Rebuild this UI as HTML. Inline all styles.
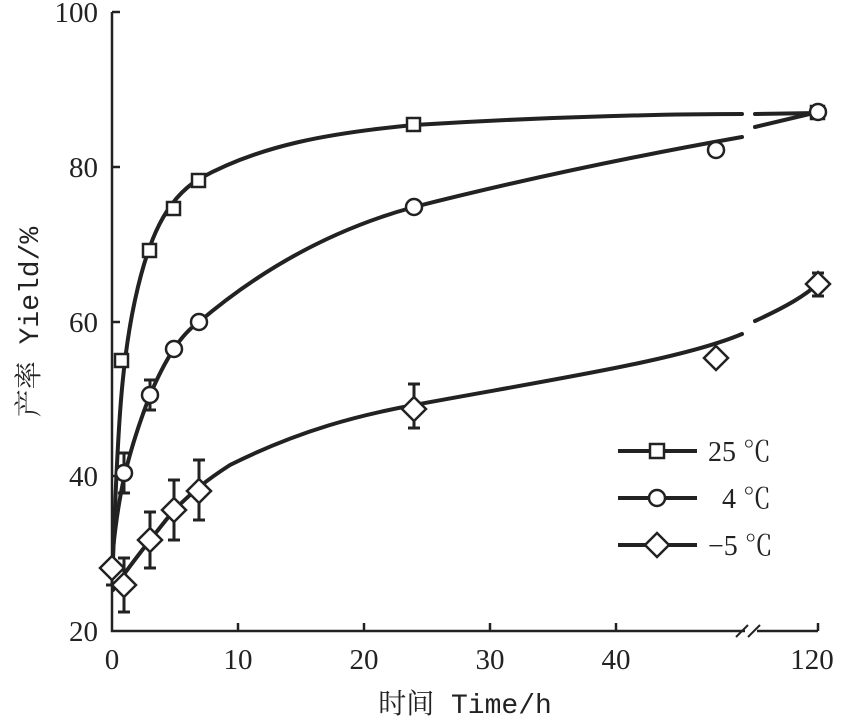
<!DOCTYPE html><html><head><style>body{margin:0;background:#fff}svg{display:block}text{font-family:"Liberation Serif","Noto Serif CJK SC",serif;fill:#222}.m{font-family:"Liberation Mono","Noto Serif CJK SC",monospace}</style></head><body>
<svg width="841" height="722" viewBox="0 0 841 722" xmlns="http://www.w3.org/2000/svg">
<g stroke="#222" stroke-width="2.5" fill="none">
<path d="M112 12V631H745M757 631H818"/>
<path d="M112 12H120M112 167H120M112 322H120M112 476H120M238 631V623M364 631V623M490 631V623M616 631V623M818 631V623"/>
<path d="M736 637L748 625M748 637L760 625" stroke-width="2"/>
</g>
<g stroke="#222" stroke-width="4" fill="none" stroke-linecap="round">
<path d="M113 560C118 420 122 360 135 300C148 240 165 200 199 179C260 145 330 133 414 125C560 116 680 114 742 114M755 114L818 113"/>
<path d="M113 550C118 500 125 460 150 395C165 360 180 335 199 322C260 270 330 230 414 207C560 170 680 148 742 137M755 127L818 112"/>
<path d="M113 590C130 565 150 540 174 510C190 495 199 485 230 465C300 430 360 415 414 405C560 378 680 360 742 334M755 321C790 305 805 295 818 284"/>
</g>
<g stroke="#222" stroke-width="3">
<path d="M124 493V453M118 493H130M118 453H130M150 410V380M144 410H156M144 380H156"/>
<path d="M124 612V558M118 612H130M118 558H130M150 568V512M144 568H156M144 512H156M174 540V480M168 540H180M168 480H180M199 520V460M193 520H205M193 460H205M414 428V384M408 428H420M408 384H420M818 296V273M812 296H824M812 273H824M112 585V563M106 585H118M106 563H118"/>
</g>
<g stroke="#222" stroke-width="2.5" fill="#fff">
<rect x="115" y="354" width="13" height="13"/><rect x="143" y="244" width="13" height="13"/><rect x="167" y="202" width="13" height="13"/><rect x="192" y="174" width="13" height="13"/><rect x="407" y="118" width="13" height="13"/><rect x="811" y="106" width="13" height="13"/>
<circle cx="124" cy="473" r="8"/><circle cx="150" cy="395" r="8"/><circle cx="174" cy="349" r="8"/><circle cx="199" cy="322" r="8"/><circle cx="414" cy="207" r="8"/><circle cx="716" cy="150" r="8"/><circle cx="818" cy="112" r="8"/>
<path d="M124 573l12 12-12 12-12-12zM150 528l12 12-12 12-12-12zM174 498l12 12-12 12-12-12zM199 479l12 12-12 12-12-12zM414 397l12 12-12 12-12-12zM716 346l12 12-12 12-12-12zM818 272l12 12-12 12-12-12zM112 556l12 12-12 12-12-12z"/>
</g>
<g stroke="#222" stroke-width="4"><path d="M618 451H697M618 498H697M618 545H697"/></g>
<g stroke="#222" stroke-width="2.5" fill="#fff"><rect x="650" y="444" width="14" height="14"/><circle cx="657" cy="498" r="8"/><path d="M657 533l12 12-12 12-12-12z"/></g>
<g font-size="29" text-anchor="end"><text x="98" y="22">100</text><text x="98" y="177">80</text><text x="98" y="332">60</text><text x="98" y="486">40</text><text x="98" y="641">20</text></g>
<g font-size="29" text-anchor="middle"><text x="112" y="669">0</text><text x="238" y="669">10</text><text x="364" y="669">20</text><text x="490" y="669">30</text><text x="616" y="669">40</text><text x="812" y="669">120</text></g>
<text class="m" x="465" y="713" font-size="28" text-anchor="middle">时间 Time/h</text>
<text class="m" transform="translate(38 322) rotate(-90)" font-size="28" text-anchor="middle">产率 Yield/%</text>
<g font-size="28"><text x="708" y="461">25 ℃</text><text x="722" y="508">4 ℃</text><text x="708" y="555">−5 ℃</text></g>
</svg></body></html>
